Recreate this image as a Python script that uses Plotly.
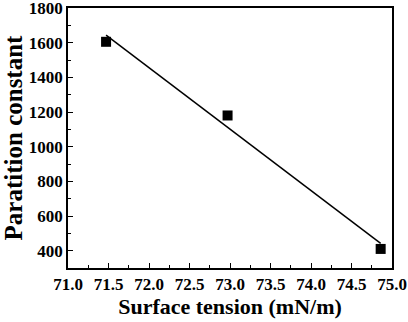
import plotly.graph_objects as go

surface_tension = [71.47, 72.97, 74.86]
partition_constant = [1605, 1180, 410]
fit_x = [71.47, 74.86]
fit_y = [1643, 442]

x_ticks = [71.0, 71.5, 72.0, 72.5, 73.0, 73.5, 74.0, 74.5, 75.0]
y_ticks = [400, 600, 800, 1000, 1200, 1400, 1600, 1800]

font = "Liberation Serif"

fig = go.Figure()
fig.add_trace(go.Scatter(x=fit_x, y=fit_y, mode="lines",
                         line=dict(color="black", width=1.5), showlegend=False))
fig.add_trace(go.Scatter(x=surface_tension, y=partition_constant, mode="markers",
                         marker=dict(symbol="square", size=10, color="black"),
                         showlegend=False))

fig.update_layout(
    width=408, height=322,
    margin=dict(l=68, r=16, t=8, b=54, autoexpand=False),
    paper_bgcolor="white", plot_bgcolor="white",
    font=dict(family=font, size=17, color="black", weight="bold"),
    xaxis=dict(
        range=[71.0, 75.0], tickmode="array", tickvals=x_ticks,
        ticktext=[f"{v:.1f}" for v in x_ticks],
        showline=True, linecolor="black", linewidth=1.5, mirror=True,
        ticks="inside", ticklen=5, tickwidth=1.3, tickcolor="black",
        showgrid=False, zeroline=False, ticklabeloverflow="allow",
        tickfont=dict(family=font, size=17, color="black", weight="bold"),
        minor=dict(ticks="inside", ticklen=3, tickwidth=1.2, tickcolor="black", dtick=0.25, tick0=71.0, showgrid=False),
        title=dict(text="Surface tension (mN/m)", font=dict(family=font, size=22, color="black", weight="bold"), standoff=5),
    ),
    yaxis=dict(
        range=[300, 1800], tickmode="array", tickvals=y_ticks,
        ticktext=[str(v) for v in y_ticks],
        showline=True, linecolor="black", linewidth=1.5, mirror=True,
        ticks="inside", ticklen=5, tickwidth=1.3, tickcolor="black",
        showgrid=False, zeroline=False, ticklabeloverflow="allow",
        tickfont=dict(family=font, size=17, color="black", weight="bold"),
        minor=dict(ticks="inside", ticklen=3, tickwidth=1.2, tickcolor="black", dtick=100, tick0=300, showgrid=False),
        title=dict(text="Paratition constant", font=dict(family=font, size=25, color="black", weight="bold"), standoff=6),
    ),
)

fig.write_html("out.html", config={"displayModeBar": False},
               post_script="document.body.style.margin='0';")
